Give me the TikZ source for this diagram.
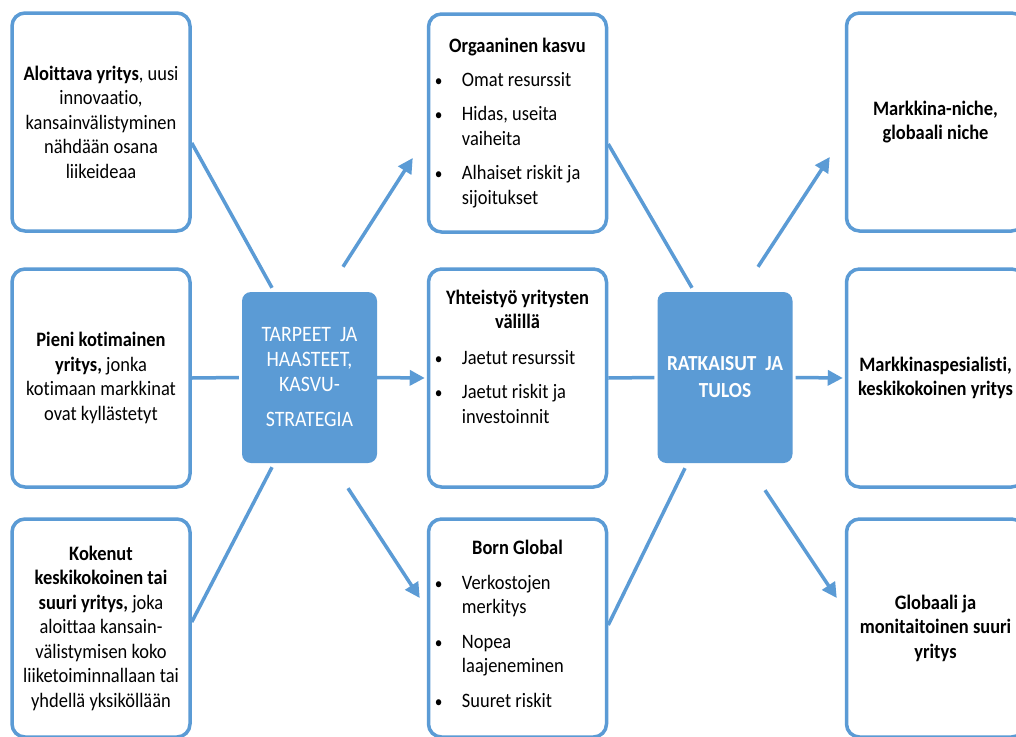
\documentclass[tikz,border=0pt]{standalone}
\usepackage{fontspec}
\setmainfont{Carlito}[FakeStretch=0.9, Ligatures=NoCommon]
\usetikzlibrary{arrows.meta}
\definecolor{accent}{HTML}{5B9BD5}
\newcommand{\bodyfont}{\fontsize{20.5}{24.5}\selectfont}
\newcommand{\hubfont}{\fontsize{22}{25}\selectfont}
\newcommand{\listmark}{{\fontsize{17}{17}\selectfont\textbullet}}
\tikzset{
  card/.style={draw=accent, line width=3.5pt, rounded corners=13pt, fill=white,
    minimum width=178pt, minimum height=218pt, inner sep=0pt, align=center, font=\bodyfont},
  hubbox/.style={fill=accent, rounded corners=9pt, minimum width=135pt, minimum height=171pt,
    inner sep=0pt, align=center, text=white, font=\hubfont},
  cardtext/.style={inner sep=0pt, font=\bodyfont},
  link/.style={draw=accent, line width=3.5pt},
  flow/.style={link, -{Triangle[length=15pt,width=15pt]}},
}
\begin{document}
\begin{tikzpicture}[x=1pt, y=-1pt]
\useasboundingbox (0,0) rectangle (1016,736);
\fill[white] (0,0) rectangle (1016,736);
\clip (0,0) rectangle (1016,736);

% starting situations
\node[card] (l1) at (101,122) {\textbf{Aloittava yritys}, uusi\\innovaatio,\\kansainvälistyminen\\nähdään osana\\liikeideaa};
\node[card] (l2) at (101,378) {\textbf{Pieni kotimainen}\\\textbf{yritys,} jonka\\kotimaan markkinat\\ovat kyllästetyt};
\node[card] (l3) at (101,628) {\textbf{Kokenut}\\\textbf{keskikokoinen tai}\\\textbf{suuri yritys,} joka\\aloittaa kansain-\\välistymisen koko\\liiketoiminnallaan tai\\yhdellä yksiköllään};

% hubs
\node[hubbox] (hub1) at (309.5,377.5) {TARPEET\ \ JA\\HAASTEET,\\KASVU-\\[10pt]STRATEGIA};
\node[hubbox, font=\fontsize{21.5}{27}\selectfont\bfseries] (hub2) at (725,377.5) {RATKAISUT\ \ JA\\TULOS};

% growth strategies
\node[card] (m1) at (517.5,123) {};
\node[card] (m2) at (517.5,378) {};
\node[card] (m3) at (517.5,628) {};

\node[cardtext, anchor=base] (m1h) at ([yshift=-40pt]m1.north)
  {\begin{tabular}[t]{@{}c@{}}\bfseries Orgaaninen kasvu\end{tabular}};
\node[cardtext, anchor=base west] (m1l) at ([xshift=8pt,yshift=-74pt]m1.north west)
  {\begin{tabular}[t]{@{}p{27pt}@{}l@{}}
   \listmark & Omat resurssit\\[10pt]
   \listmark & Hidas, useita\\ & vaiheita\\[10pt]
   \listmark & Alhaiset riskit ja\\ & sijoitukset
   \end{tabular}};

\node[cardtext, anchor=base] (m2h) at ([yshift=-37pt]m2.north)
  {\begin{tabular}[t]{@{}c@{}}\bfseries Yhteistyö yritysten\\\bfseries välillä\end{tabular}};
\node[cardtext, anchor=base west] (m2l) at ([xshift=8pt,yshift=-97pt]m2.north west)
  {\begin{tabular}[t]{@{}p{27pt}@{}l@{}}
   \listmark & Jaetut resurssit\\[10pt]
   \listmark & Jaetut riskit ja\\ & investoinnit
   \end{tabular}};

\node[cardtext, anchor=base] (m3h) at ([yshift=-37pt]m3.north)
  {\begin{tabular}[t]{@{}c@{}}\bfseries Born Global\end{tabular}};
\node[cardtext, anchor=base west] (m3l) at ([xshift=8pt,yshift=-72pt]m3.north west)
  {\begin{tabular}[t]{@{}p{27pt}@{}l@{}}
   \listmark & Verkostojen\\ & merkitys\\[10pt]
   \listmark & Nopea\\ & laajeneminen\\[10pt]
   \listmark & Suuret riskit
   \end{tabular}};

% outcomes
\node[card, font=\bodyfont\bfseries] (r1) at (935.5,122) {Markkina-niche,\\globaali niche};
\node[card, font=\bodyfont\bfseries] (r2) at (935.5,378) {Markkinaspesialisti,\\keskikokoinen yritys};
\node[card, font=\bodyfont\bfseries] (r3) at (935.5,628) {Globaali ja\\monitaitoinen suuri\\yritys};

% connectors into the first hub
\draw[link] ([yshift=-21pt]l1.east) -- ([xshift=-37.5pt,yshift=4pt]hub1.north);
\draw[link] (l2.east) -- ([xshift=-3pt]hub1.west);
\draw[link] ([yshift=6pt]l3.east) -- ([xshift=-37.5pt,yshift=-4pt]hub1.south);

% first hub to strategies
\draw[flow] ([xshift=33.5pt,yshift=25pt]hub1.north) -- ([xshift=-14pt,yshift=-35pt]m1.west);
\draw[flow] (hub1.east) -- ([xshift=-2pt]m2.west);
\draw[flow] ([xshift=38.5pt,yshift=-25pt]hub1.south) -- ([xshift=-7pt,yshift=30pt]m3.west);

% strategies into the second hub
\draw[link] ([yshift=-21pt]m1.east) -- ([xshift=-33pt,yshift=4pt]hub2.north);
\draw[link] (m2.east) -- ([xshift=-3pt]hub2.west);
\draw[link] ([yshift=3pt]m3.east) -- ([xshift=-40pt,yshift=-5pt]hub2.south);

% second hub to outcomes
\draw[flow] ([xshift=33pt,yshift=25pt]hub2.north) -- ([xshift=-15pt,yshift=-35pt]r1.west);
\draw[flow] ([xshift=3pt]hub2.east) -- ([xshift=-2pt]r2.west);
\draw[flow] ([xshift=40pt,yshift=-27pt]hub2.south) -- ([xshift=-8pt,yshift=30pt]r3.west);
\end{tikzpicture}
\end{document}
